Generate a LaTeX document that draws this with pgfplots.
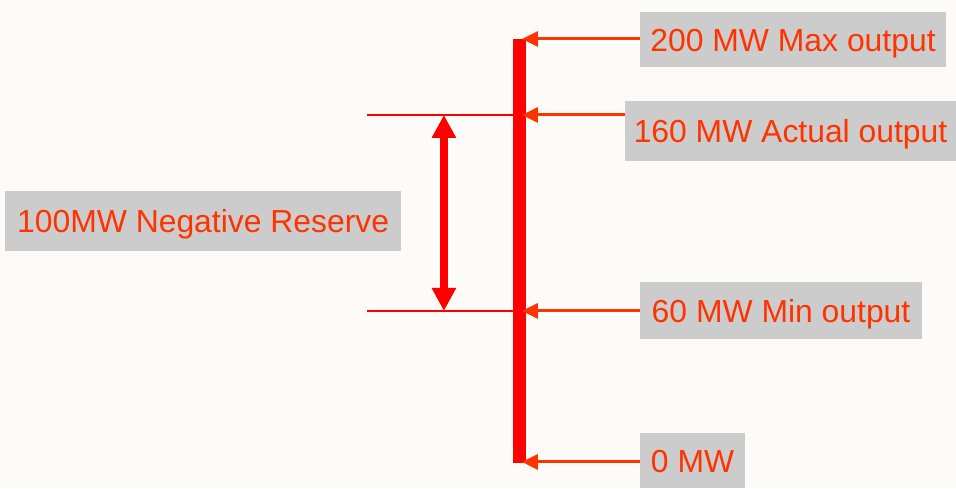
\documentclass[border=0pt]{standalone}
\usepackage{pgfplots}
\pgfplotsset{compat=1.18}
\usepackage{pgfplotstable}
\usetikzlibrary{arrows.meta}
\usepackage{fontspec}
\setmainfont{Liberation Sans}

\definecolor{txtred}{HTML}{FF3300}
\definecolor{barred}{HTML}{FF0000}
\definecolor{boxgray}{HTML}{CCCCCC}
\definecolor{bgcream}{HTML}{FCFBF7}

% level (MW), its row on the picture, where its arrow starts
\pgfplotstableread{
mw  ypix  xbox  xtip
200 39    640   522
160 115   625   522
60  311   640   522
0   462   640   522
}\levels

\begin{document}
\begin{tikzpicture}
\begin{axis}[
    width=956bp, height=488bp, scale only axis,
    xmin=0, xmax=956, ymin=0, ymax=488, y dir=reverse,
    hide axis, clip=false,
  ]
  \fill[bgcream] (axis cs:0,0) rectangle (axis cs:956,488);

  % output bar
  \addplot[barred, line width=13bp] coordinates {(519.5,39) (519.5,463)};

  % reserve band limits
  \addplot[barred, line width=1.6bp] coordinates {(367,115) (519,115)};
  \addplot[barred, line width=1.6bp] coordinates {(367,311) (519,311)};

  % negative reserve double arrow
  \addplot[barred, line width=8bp,
    {Triangle[length=23bp,width=23bp]}-{Triangle[length=23bp,width=23bp]}]
    coordinates {(444,115) (444,311)};

  % arrows from labels to bar
  \addplot[txtred, line width=3bp, -{Triangle[length=16bp,width=15bp]},
    quiver={u={\thisrow{xtip}-\thisrow{xbox}}, v=0}]
    table[x=xbox, y=ypix] {\levels};

  \tikzset{lbl/.style={fill=boxgray, text=txtred, inner sep=0pt, anchor=north west,
      text height=23bp, text depth=0pt, font=\fontsize{32}{37}\selectfont}}
  \node[lbl, minimum width=306bp, minimum height=55bp] at (axis cs:640,12) {200 MW Max output};
  \node[lbl, minimum width=331bp, minimum height=60bp] at (axis cs:625,101) {160 MW Actual output};
  \node[lbl, minimum width=396bp, minimum height=60bp] at (axis cs:5,191) {100MW Negative Reserve};
  \node[lbl, minimum width=282bp, minimum height=57bp] at (axis cs:640,282) {60 MW Min output};
  \node[lbl, minimum width=105bp, minimum height=55bp] at (axis cs:640,433) {0 MW};
\end{axis}
\end{tikzpicture}
\end{document}
